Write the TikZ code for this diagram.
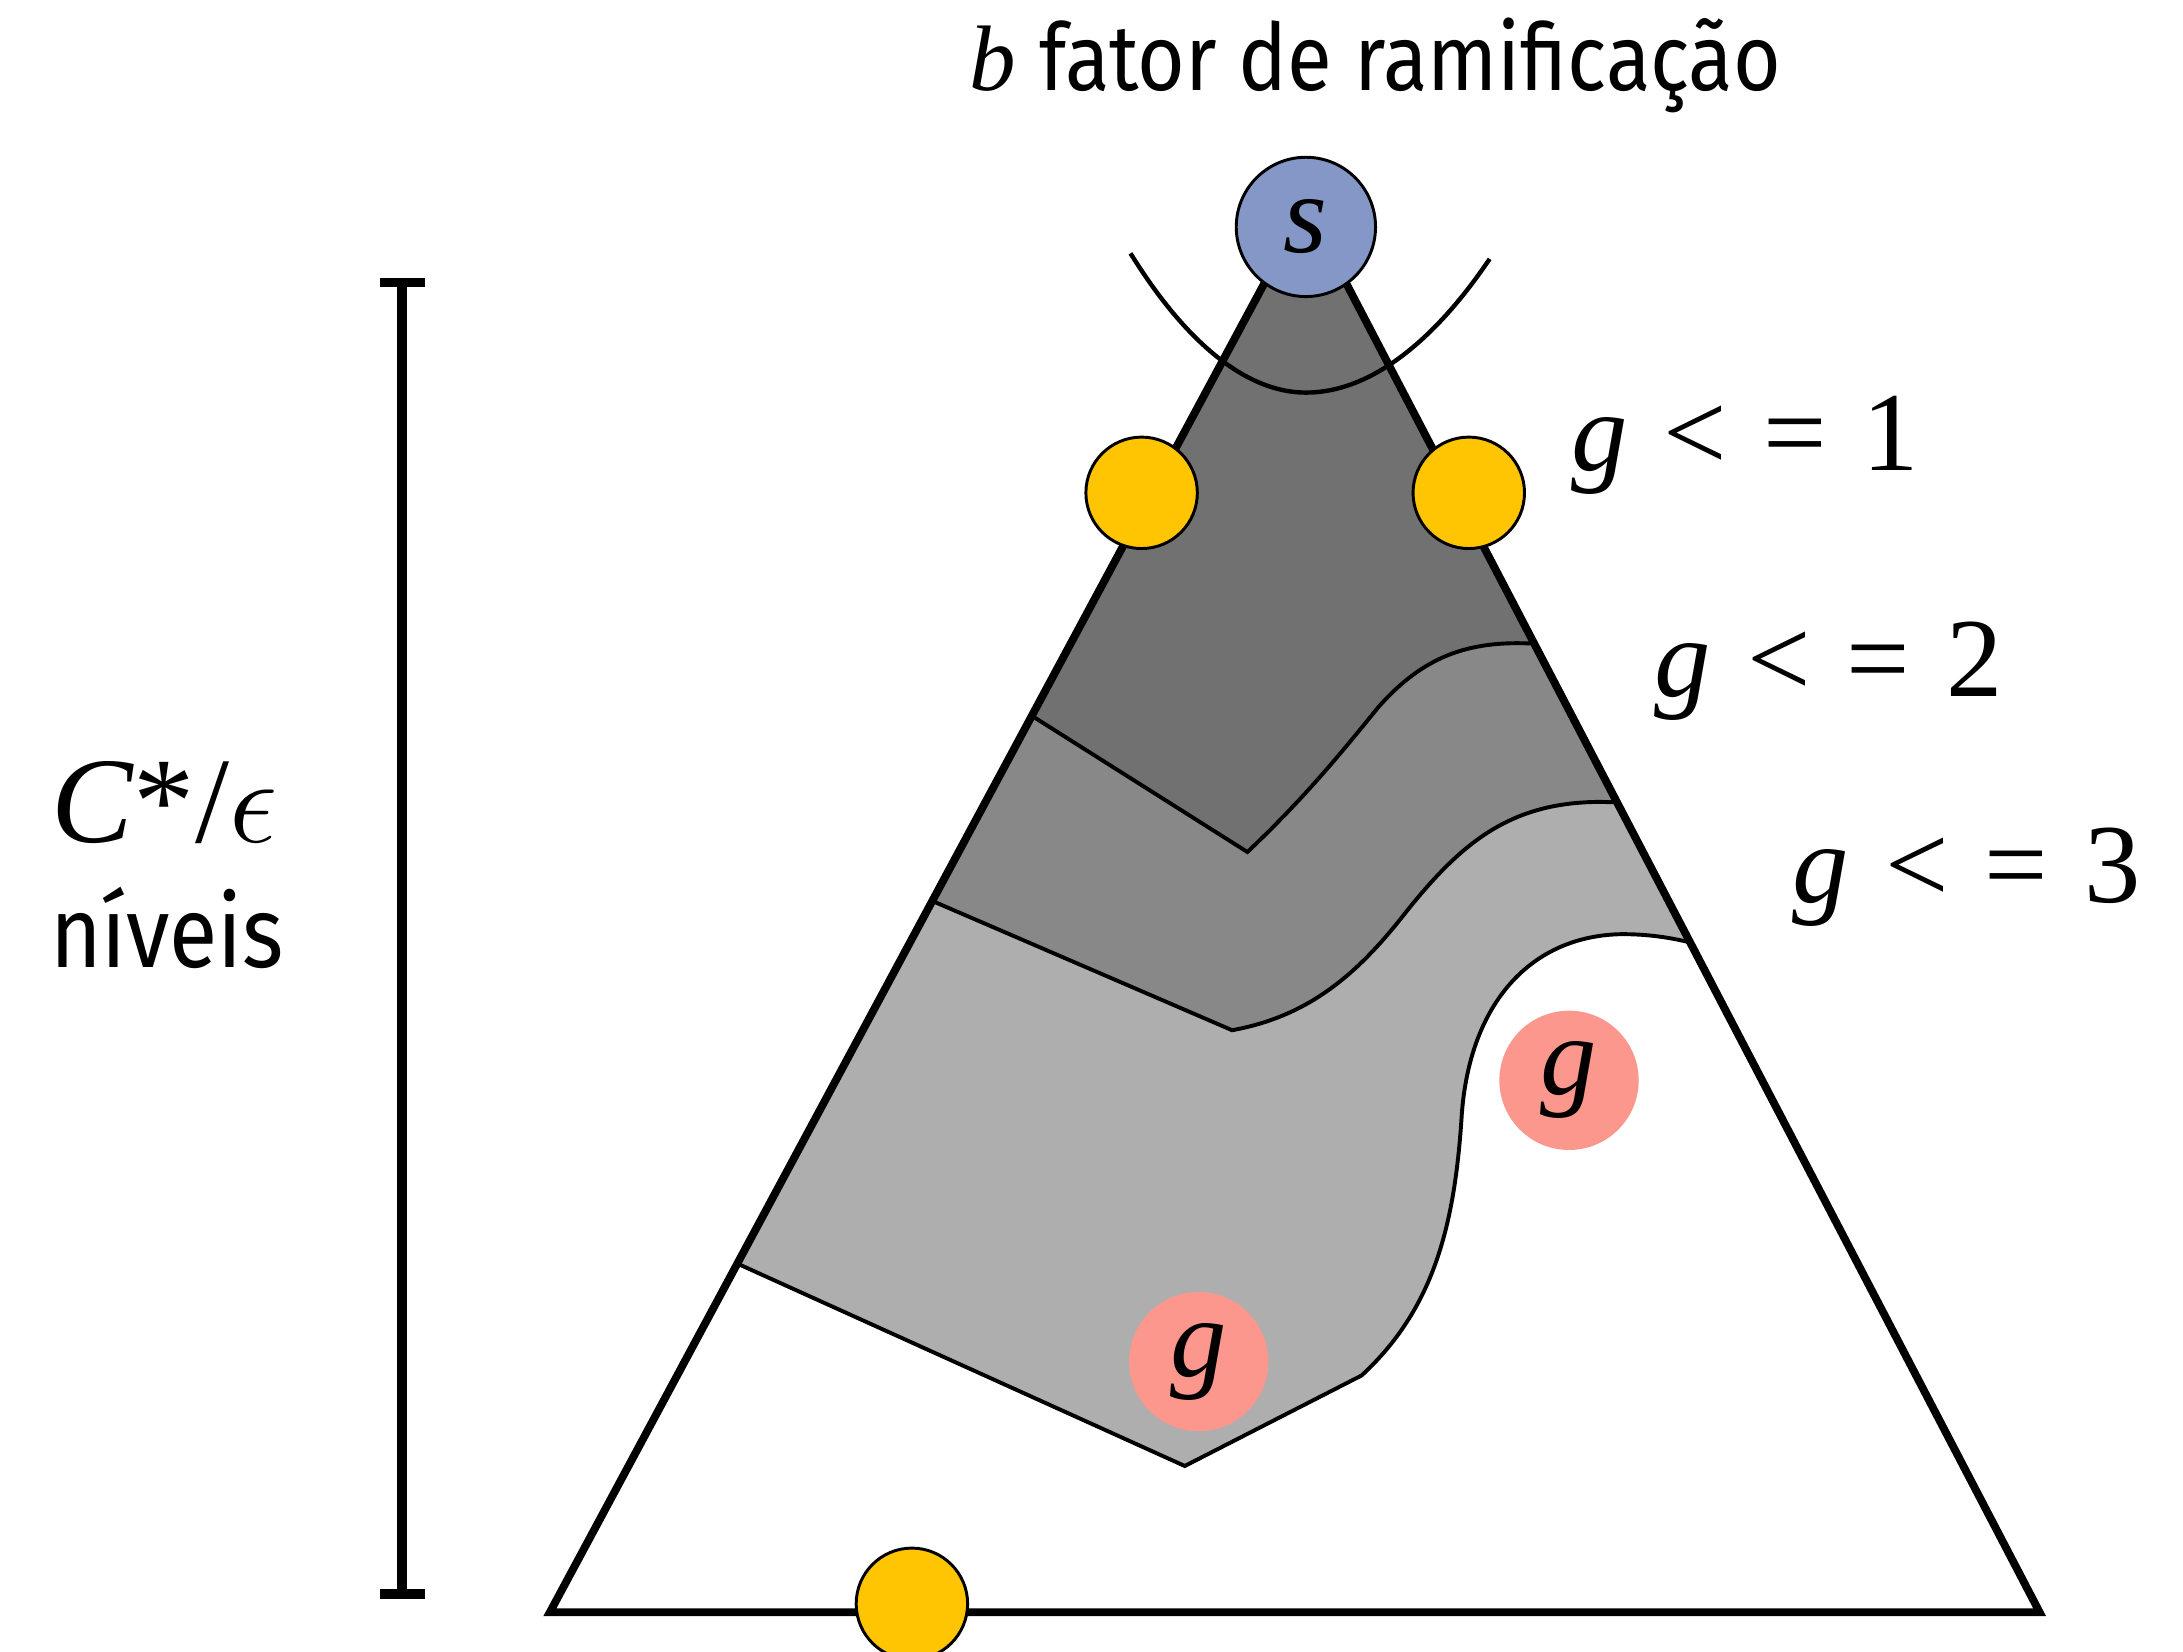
\documentclass[tikz,border=0pt]{standalone}
\usepackage{fontspec}
\setmainfont{Liberation Serif}
\setsansfont{Fira Sans}[FakeStretch=0.88]
\usetikzlibrary{positioning}
\definecolor{lvlone}{HTML}{717171}
\definecolor{lvltwo}{HTML}{888888}
\definecolor{lvlthree}{HTML}{AEAEAE}
\definecolor{startblue}{HTML}{8497C6}
\definecolor{front}{HTML}{FFC502}
\definecolor{goalpink}{HTML}{FC978D}

\begin{document}
\begin{tikzpicture}[x=0.01cm, y=-0.01cm,
          band/.style={draw, line width=0.8pt},
          tri/.style={line width=1.6pt},
          fr/.style={draw, circle, fill=front, line width=0.6pt, minimum size=0.8cm, inner sep=0pt},
          goal/.style={circle, fill=goalpink, minimum size=1cm, inner sep=0pt,
                       font=\fontsize{23pt}{27pt}\selectfont\itshape},
          lbl/.style={anchor=base west, inner sep=0pt, font=\fontsize{23pt}{27pt}\selectfont}]
        \useasboundingbox (0,0) rectangle (1568,1186);
        \coordinate (apex) at (938,148);
        \coordinate (bl) at (395,1158);
        \coordinate (br) at (1465,1158);
        % cost bands, clipped to the tree
        \begin{scope}
          \clip (apex) -- (bl) -- (br) -- cycle;
          \draw[band, fill=lvlthree] (400,849) -- (851,1053) -- (978,988)
               .. controls (1030,940) and (1045,880) .. (1050,800)
               .. controls (1056,720) and (1100,672) .. (1165,671)
               .. controls (1190,671) and (1210,675) .. (1240,684)
               -- (1300,700) -- (1300,0) -- (400,0) -- cycle;
          \draw[band, fill=lvltwo] (500,574) -- (885,740)
               .. controls (940,730) and (975,700) .. (1010,655)
               .. controls (1050,605) and (1085,576) .. (1150,576)
               -- (1300,580) -- (1300,0) -- (500,0) -- cycle;
          \draw[band, fill=lvlone] (600,425) -- (896,612)
               .. controls (935,575) and (960,545) .. (990,508)
               .. controls (1020,474) and (1050,462) .. (1090,462)
               -- (1300,465) -- (1300,0) -- (600,0) -- cycle;
        \end{scope}
        \draw[tri] (apex) -- (bl) -- (br) -- cycle;
        \draw[line width=0.9pt] (812,182) parabola bend (938,282) (1070,186);
        % depth bracket
        \coordinate (top) at (289,203);
        \coordinate (bot) at (289,1145);
        \draw[line width=2pt] (top) -- (bot);
        \draw[line width=2pt] ([xshift=-0.16cm]top) -- ([xshift=0.16cm]top);
        \draw[line width=2pt] ([xshift=-0.16cm]bot) -- ([xshift=0.16cm]bot);
        % nodes
        \node[draw, circle, fill=startblue, line width=0.6pt, minimum size=1cm, inner sep=0pt,
              font=\fontsize{23pt}{27pt}\selectfont\itshape] (s) at (938,163) {s};
        \node[fr] (f1) at (820,354) {};
        \node[fr] (f2) at (1055,354) {};
        \node[fr] (f3) at (655,1152) {};
        \node[goal] (g1) at (1127,776) {g};
        \node[goal] (g2) at (861,978) {g};
        % labels
        \node[lbl] (c1) at (1128,338) {\textit{g}\hspace{.32em}<\hspace{.32em}=\hspace{.32em}1};
        \node[lbl] (c2) at (1188,500) {\textit{g}\hspace{.32em}<\hspace{.32em}=\hspace{.32em}2};
        \node[lbl] (c3) at (1287,648) {\textit{g}\hspace{.32em}<\hspace{.32em}=\hspace{.32em}3};
        \node[anchor=base, inner sep=0pt, font=\fontsize{19pt}{23pt}\selectfont] (bf) at (988,65)
             {\textit{b} \sffamily fator de ramificação};
        \node[anchor=base, inner sep=0pt, font=\fontsize{25pt}{29pt}\selectfont] (depth) at (118,605)
             {\textit{C}*/$\epsilon$};
        \node[anchor=base, inner sep=0pt, font=\sffamily\fontsize{20.5pt}{24pt}\selectfont] (lv) at (120,695)
             {níveis};
      \end{tikzpicture}
\end{document}
